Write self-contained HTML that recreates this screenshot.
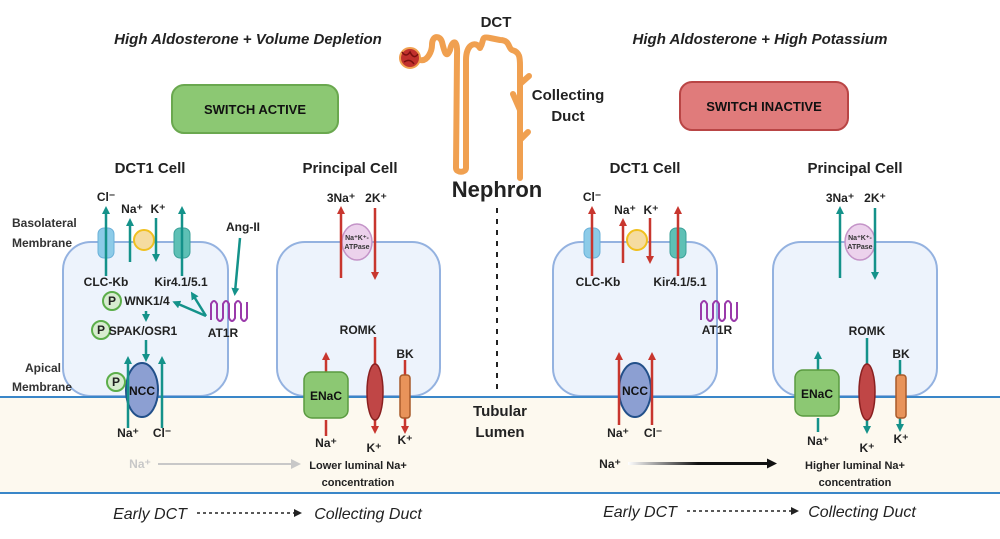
<!DOCTYPE html>
<html><head><meta charset="utf-8"><style>
html,body{margin:0;padding:0;background:#fff;}
svg{display:block;font-family:"Liberation Sans",sans-serif;}
.b{font-weight:bold;}
</style></head><body>
<svg width="1000" height="539" viewBox="0 0 1000 539" xmlns="http://www.w3.org/2000/svg">
<defs>
<marker id="t" markerWidth="8" markerHeight="8" refX="4" refY="4" orient="auto" markerUnits="userSpaceOnUse"><path d="M0,0 L8,4 L0,8z" fill="#14928a"/></marker>
<marker id="r" markerWidth="8" markerHeight="8" refX="4" refY="4" orient="auto" markerUnits="userSpaceOnUse"><path d="M0,0 L8,4 L0,8z" fill="#c8362e"/></marker>
<marker id="g" markerWidth="10" markerHeight="10" refX="5" refY="5" orient="auto" markerUnits="userSpaceOnUse"><path d="M0,0 L10,5 L0,10z" fill="#c8c8c8"/></marker>
<marker id="k" markerWidth="10" markerHeight="10" refX="5" refY="5" orient="auto" markerUnits="userSpaceOnUse"><path d="M0,0 L10,5 L0,10z" fill="#111"/></marker>
<marker id="k2" markerWidth="8" markerHeight="8" refX="4" refY="4" orient="auto" markerUnits="userSpaceOnUse"><path d="M0,0 L8,4 L0,8z" fill="#222"/></marker>
<linearGradient id="gr" x1="0" x2="1"><stop offset="0" stop-color="#fff"/><stop offset="0.5" stop-color="#111"/></linearGradient>
</defs>

<rect x="0" y="397" width="1000" height="96" fill="#fdf9ef"/>
<line x1="0" y1="493" x2="1000" y2="493" stroke="#3a86c8" stroke-width="2"/>

<g class="b" font-style="italic" font-size="15" fill="#222" text-anchor="middle">
<text x="248" y="44">High Aldosterone + Volume Depletion</text>
<text x="760" y="44">High Aldosterone + High Potassium</text>
</g>
<rect x="172" y="85" width="166" height="48" rx="12" fill="#8cc873" stroke="#6aa84f" stroke-width="2"/>
<text x="255" y="114" class="b" font-size="13" text-anchor="middle" fill="#111">SWITCH ACTIVE</text>
<rect x="680" y="82" width="168" height="48" rx="12" fill="#e07b7b" stroke="#b94545" stroke-width="2"/>
<text x="764" y="111" class="b" font-size="13" text-anchor="middle" fill="#111">SWITCH INACTIVE</text>

<g class="b" font-size="15" fill="#222" text-anchor="middle">
<text x="150" y="173">DCT1 Cell</text>
<text x="350" y="173">Principal Cell</text>
<text x="645" y="173">DCT1 Cell</text>
<text x="855" y="173">Principal Cell</text>
<text x="496" y="27">DCT</text>
<text x="568" y="100">Collecting</text>
<text x="568" y="121">Duct</text>
<text x="500" y="416">Tubular</text>
<text x="500" y="437">Lumen</text>
</g>
<text x="497" y="197" class="b" font-size="22" text-anchor="middle" fill="#222">Nephron</text>
<line x1="497" y1="208" x2="497" y2="392" stroke="#222" stroke-width="2" stroke-dasharray="5,6"/>

<g fill="none" stroke="#f0a050" stroke-width="6" stroke-linecap="round" stroke-linejoin="round">
<path d="M420,60 C428,62 432,50 432,45 C432,35 440,35 442,42 C444,50 446,60 450,50 C452,40 458,38 457,55 L456,168 C456,173 466,173 466,168 L466,60 C466,45 475,40 480,48 C485,40 480,36 490,38 L500,40 C510,40 508,48 512,50 C520,52 520,58 520,66 L520,178"/>
<path d="M520,84 L529,76 M520,110 L513,94 M520,140 L528,132"/>
</g>
<circle cx="410" cy="58" r="10" fill="#c0302c" stroke="#f0a050" stroke-width="2"/>
<path d="M402,52 q4,6 8,0 q4,8 8,2 M404,62 q6,-4 10,2" stroke="#7a1010" stroke-width="1.5" fill="none"/>

<g fill="#edf3fc" stroke="#94b2e0" stroke-width="2">
<rect x="63" y="242" width="165" height="154" rx="28"/>
<rect x="277" y="242" width="163" height="154" rx="28"/>
<rect x="553" y="242" width="164" height="154" rx="28"/>
<rect x="773" y="242" width="164" height="154" rx="28"/>
</g>
<line x1="0" y1="397" x2="1000" y2="397" stroke="#3a86c8" stroke-width="2"/>

<g class="b" font-size="12" fill="#333">
<text x="12" y="227">Basolateral</text><text x="12" y="247">Membrane</text>
<text x="25" y="372">Apical</text><text x="12" y="391">Membrane</text>
</g>

<g stroke="#14928a" stroke-width="2.5" fill="none">
<rect x="98" y="228" width="16" height="30" rx="6" fill="#8ccbe8" stroke="#6ab0d8" stroke-width="1"/>
<rect x="174" y="228" width="16" height="30" rx="6" fill="#5ec0b5" stroke="#3aa098" stroke-width="1"/>
<circle cx="144" cy="240" r="10" fill="#f5dca0" stroke="#f0c020" stroke-width="2"/>
<line x1="106" y1="276" x2="106" y2="210" marker-end="url(#t)"/>
<line x1="130" y1="262" x2="130" y2="222" marker-end="url(#t)"/>
<line x1="156" y1="218" x2="156" y2="258" marker-end="url(#t)"/>
<line x1="182" y1="276" x2="182" y2="210" marker-end="url(#t)"/>
<line x1="240" y1="238" x2="235" y2="292" marker-end="url(#t)"/>
<line x1="206" y1="316" x2="176" y2="303" marker-end="url(#t)"/>
<line x1="206" y1="316" x2="193" y2="295" marker-end="url(#t)"/>
<line x1="146" y1="311" x2="146" y2="318" marker-end="url(#t)"/>
<line x1="146" y1="340" x2="146" y2="358" marker-end="url(#t)"/>
</g>
<ellipse cx="142" cy="390" rx="16" ry="27" fill="#8c9fd2" stroke="#22508a" stroke-width="2"/>
<text x="142" y="395" class="b" font-size="12" text-anchor="middle" fill="#111">NCC</text>
<g stroke="#14928a" stroke-width="2.5" fill="none">
<line x1="128" y1="428" x2="128" y2="360" marker-end="url(#t)"/>
<line x1="162" y1="428" x2="162" y2="360" marker-end="url(#t)"/>
</g>
<path d="M211,320 v-16 q3,-6 6,0 v14 q3,6 6,0 v-14 q3,-6 6,0 v14 q3,6 6,0 v-14 q3,-6 6,0 v14 q3,6 6,0 v-16" fill="none" stroke="#9a3aaa" stroke-width="2"/>
<g fill="#d8ecd0" stroke="#5cae4a" stroke-width="2">
<circle cx="112" cy="301" r="9"/><circle cx="101" cy="330" r="9"/><circle cx="116" cy="382" r="9"/>
</g>
<g class="b" font-size="12" fill="#222" text-anchor="middle">
<text x="112" y="305">P</text><text x="101" y="334">P</text><text x="116" y="386">P</text>
<text x="106" y="201">Cl⁻</text><text x="132" y="213">Na⁺</text><text x="158" y="213">K⁺</text>
<text x="106" y="286">CLC-Kb</text><text x="181" y="286">Kir4.1/5.1</text>
<text x="243" y="231">Ang-II</text><text x="223" y="337">AT1R</text>
<text x="147" y="305">WNK1/4</text><text x="143" y="335">SPAK/OSR1</text>
<text x="128" y="437">Na⁺</text><text x="162" y="437">Cl⁻</text>
</g>

<ellipse cx="357" cy="242" rx="15" ry="18" fill="#ecd2ec" stroke="#c494c8" stroke-width="1.5"/>
<text x="357" y="240" class="b" font-size="7" text-anchor="middle" fill="#333">Na⁺K⁺-</text>
<text x="357" y="249" class="b" font-size="7" text-anchor="middle" fill="#333">ATPase</text>
<g stroke="#c8362e" stroke-width="2.5" fill="none">
<line x1="341" y1="278" x2="341" y2="210" marker-end="url(#r)"/>
<line x1="375" y1="208" x2="375" y2="276" marker-end="url(#r)"/>
<line x1="326" y1="420" x2="326" y2="436"/>
<line x1="326" y1="372" x2="326" y2="356" marker-end="url(#r)"/>
<line x1="375" y1="337" x2="375" y2="430" marker-end="url(#r)"/>
<line x1="405" y1="360" x2="405" y2="430" marker-end="url(#r)"/>
</g>
<rect x="304" y="372" width="44" height="46" rx="8" fill="#8cc873" stroke="#5a9a40" stroke-width="1.5"/>
<text x="326" y="400" class="b" font-size="12" text-anchor="middle" fill="#111">ENaC</text>
<ellipse cx="375" cy="392" rx="8" ry="28" fill="#c04646" stroke="#8a2020" stroke-width="1.5"/>
<rect x="400" y="375" width="10" height="43" rx="3" fill="#e8935a" stroke="#a85a2a" stroke-width="1.5"/>
<g class="b" font-size="12" fill="#222" text-anchor="middle">
<text x="341" y="202">3Na⁺</text><text x="376" y="202">2K⁺</text>
<text x="358" y="334">ROMK</text><text x="405" y="358">BK</text>
<text x="326" y="447">Na⁺</text><text x="374" y="452">K⁺</text><text x="405" y="444">K⁺</text>
</g>
<text x="140" y="468" class="b" font-size="12" text-anchor="middle" fill="#c8c8c8">Na⁺</text>
<line x1="158" y1="464" x2="296" y2="464" stroke="#c8c8c8" stroke-width="2" marker-end="url(#g)"/>
<g class="b" font-size="11" fill="#222" text-anchor="middle">
<text x="358" y="469">Lower luminal Na+</text><text x="358" y="486">concentration</text>
</g>

<rect x="584" y="228" width="16" height="30" rx="6" fill="#8ccbe8" stroke="#6ab0d8" stroke-width="1"/>
<rect x="670" y="228" width="16" height="30" rx="6" fill="#5ec0b5" stroke="#3aa098" stroke-width="1"/>
<circle cx="637" cy="240" r="10" fill="#f5dca0" stroke="#f0c020" stroke-width="2"/>
<ellipse cx="635" cy="390" rx="16" ry="27" fill="#8c9fd2" stroke="#22508a" stroke-width="2"/>
<text x="635" y="395" class="b" font-size="12" text-anchor="middle" fill="#111">NCC</text>
<g stroke="#c8362e" stroke-width="2.5" fill="none">
<line x1="592" y1="276" x2="592" y2="210" marker-end="url(#r)"/>
<line x1="623" y1="263" x2="623" y2="222" marker-end="url(#r)"/>
<line x1="650" y1="218" x2="650" y2="260" marker-end="url(#r)"/>
<line x1="678" y1="276" x2="678" y2="210" marker-end="url(#r)"/>
<line x1="619" y1="425" x2="619" y2="356" marker-end="url(#r)"/>
<line x1="652" y1="425" x2="652" y2="356" marker-end="url(#r)"/>
</g>
<path d="M701,320 v-16 q3,-6 6,0 v14 q3,6 6,0 v-14 q3,-6 6,0 v14 q3,6 6,0 v-14 q3,-6 6,0 v14 q3,6 6,0 v-16" fill="none" stroke="#9a3aaa" stroke-width="2"/>
<g class="b" font-size="12" fill="#222" text-anchor="middle">
<text x="592" y="201">Cl⁻</text><text x="625" y="214">Na⁺</text><text x="651" y="214">K⁺</text>
<text x="598" y="286">CLC-Kb</text><text x="680" y="286">Kir4.1/5.1</text>
<text x="717" y="334">AT1R</text>
<text x="618" y="437">Na⁺</text><text x="653" y="437">Cl⁻</text>
<text x="610" y="468">Na⁺</text>
</g>
<rect x="628" y="462" width="140" height="3" fill="url(#gr)"/>
<line x1="700" y1="463.5" x2="772" y2="463.5" stroke="#111" stroke-width="3" marker-end="url(#k)"/>

<ellipse cx="860" cy="242" rx="15" ry="18" fill="#ecd2ec" stroke="#c494c8" stroke-width="1.5"/>
<text x="860" y="240" class="b" font-size="7" text-anchor="middle" fill="#333">Na⁺K⁺-</text>
<text x="860" y="249" class="b" font-size="7" text-anchor="middle" fill="#333">ATPase</text>
<g stroke="#14928a" stroke-width="2.5" fill="none">
<line x1="840" y1="278" x2="840" y2="210" marker-end="url(#t)"/>
<line x1="875" y1="208" x2="875" y2="276" marker-end="url(#t)"/>
<line x1="818" y1="418" x2="818" y2="432"/>
<line x1="818" y1="370" x2="818" y2="355" marker-end="url(#t)"/>
<line x1="867" y1="338" x2="867" y2="430" marker-end="url(#t)"/>
<line x1="900" y1="360" x2="900" y2="428" marker-end="url(#t)"/>
</g>
<rect x="795" y="370" width="44" height="46" rx="8" fill="#8cc873" stroke="#5a9a40" stroke-width="1.5"/>
<text x="817" y="398" class="b" font-size="12" text-anchor="middle" fill="#111">ENaC</text>
<ellipse cx="867" cy="392" rx="8" ry="28" fill="#c04646" stroke="#8a2020" stroke-width="1.5"/>
<rect x="896" y="375" width="10" height="43" rx="3" fill="#e8935a" stroke="#a85a2a" stroke-width="1.5"/>
<g class="b" font-size="12" fill="#222" text-anchor="middle">
<text x="840" y="202">3Na⁺</text><text x="875" y="202">2K⁺</text>
<text x="867" y="335">ROMK</text><text x="901" y="358">BK</text>
<text x="818" y="445">Na⁺</text><text x="867" y="452">K⁺</text><text x="901" y="443">K⁺</text>
</g>
<g class="b" font-size="11" fill="#222" text-anchor="middle">
<text x="855" y="469">Higher luminal Na+</text><text x="855" y="486">concentration</text>
</g>

<g font-style="italic" font-size="16" fill="#222" text-anchor="middle">
<text x="150" y="519">Early DCT</text><text x="368" y="519">Collecting Duct</text>
<text x="640" y="517">Early DCT</text><text x="862" y="517">Collecting Duct</text>
</g>
<line x1="197" y1="513" x2="298" y2="513" stroke="#222" stroke-width="1.5" stroke-dasharray="3,3" marker-end="url(#k2)"/>
<line x1="687" y1="511" x2="795" y2="511" stroke="#222" stroke-width="1.5" stroke-dasharray="3,3" marker-end="url(#k2)"/>
</svg>
</body></html>
